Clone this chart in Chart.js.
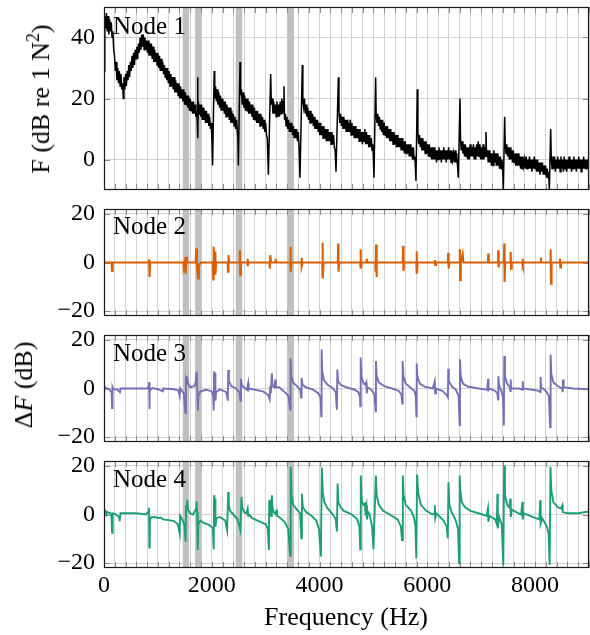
<!DOCTYPE html>
<html><head><meta charset="utf-8">
<script src="https://cdn.jsdelivr.net/npm/chart.js@4.4.1/dist/chart.umd.min.js"></script>
<style>
html,body{margin:0;padding:0;background:#fff;width:590px;height:635px;overflow:hidden;position:relative;}
canvas{position:absolute;left:0;}
.txt{position:absolute;font-family:'Liberation Serif',serif;color:#000;white-space:nowrap;line-height:1;font-size:25px;z-index:5;}
.ttl{font-size:26px;}
.rot{transform:translate(-50%,-50%) rotate(-90deg);}
</style></head><body>
<canvas id="c1"></canvas><canvas id="c2"></canvas><canvas id="c3"></canvas><canvas id="c4"></canvas>
<div class="txt" style="left:113px;top:13px;">Node 1</div>
<div class="txt" style="left:113px;top:213px;">Node 2</div>
<div class="txt" style="left:113px;top:340px;">Node 3</div>
<div class="txt" style="left:113px;top:466px;">Node 4</div>
<div class="txt ttl rot" style="left:41px;top:99px;">F (dB re 1 N<sup style="font-size:0.7em;line-height:0;">2</sup>)</div>
<div class="txt ttl rot" style="left:24px;top:385px;">Δ<i>F</i> (dB)</div>
<div class="txt ttl" style="left:346px;top:604px;transform:translateX(-50%);">Frequency (Hz)</div>
<script>
// ---- data: [frequency (Hz), level (dB)] ----
const node1Spectrum = [[0,29],[15,47],[30,43],[45,48],[60,42],[75,47],[90,41],[105,46],[120,42],[135,45],[150,40],[165,42],[180,36],[195,34],[210,29],[225,32],[240,26],[255,30],[270,25],[285,29],[300,24],[315,28],[330,23],[345,25],[358,20],[370,27],[385,23],[400,28],[415,24],[430,29],[445,26],[460,31],[475,27],[490,32],[505,29],[520,34],[535,30],[550,35],[565,31],[580,36],[595,33],[610,37],[625,33],[640,38],[655,35],[670,40],[685,36],[700,41],[715,37],[730,41],[745,36],[760,40],[775,36],[790,39],[805,35],[820,39],[835,34],[850,38],[865,34],[880,38],[895,33],[910,37],[925,32],[940,36],[955,32],[970,35],[985,31],[1000,35],[1015,30],[1030,34],[1045,29],[1060,33],[1075,29],[1090,32],[1105,28],[1120,31],[1135,27],[1150,30],[1165,26],[1180,30],[1195,25],[1210,29],[1225,24],[1240,28],[1255,24],[1270,27],[1285,23],[1300,27],[1315,22],[1330,26],[1345,22],[1360,25],[1375,21],[1390,25],[1405,20],[1420,24],[1435,20],[1450,23],[1465,19],[1480,23],[1495,18],[1510,22],[1525,18],[1540,21],[1555,17],[1570,21],[1585,16],[1600,20],[1615,16],[1630,19],[1645,15],[1660,19],[1675,15],[1690,18],[1705,14],[1720,16],[1732,12],[1738,27],[1742,7],[1750,19],[1765,15],[1780,18],[1795,14],[1810,18],[1825,13],[1840,17],[1855,13],[1870,16],[1885,12],[1900,16],[1915,12],[1930,15],[1945,11],[1960,14],[1975,10],[1990,12],[2003,6],[2015,-2],[2045,29],[2055,20],[2070,24],[2085,19],[2100,23],[2115,18],[2130,22],[2145,17],[2160,21],[2175,16],[2190,20],[2205,16],[2220,19],[2235,15],[2250,19],[2265,14],[2280,18],[2295,14],[2310,17],[2325,13],[2340,17],[2355,12],[2370,16],[2385,12],[2400,15],[2415,11],[2430,14],[2445,10],[2460,13],[2475,9],[2485,7],[2493,-2],[2524,32],[2535,21],[2550,23],[2565,18],[2580,22],[2595,17],[2610,21],[2625,16],[2640,20],[2655,16],[2670,20],[2685,15],[2700,19],[2715,15],[2730,18],[2745,14],[2760,18],[2775,13],[2790,17],[2805,13],[2820,16],[2835,12],[2850,16],[2865,12],[2880,15],[2895,11],[2910,15],[2925,11],[2940,14],[2955,10],[2970,13],[2985,9],[3000,12],[3015,8],[3030,7],[3050,-5],[3093,28],[3105,18],[3120,20],[3135,15],[3150,19],[3165,15],[3180,18],[3195,14],[3210,19],[3225,14],[3240,18],[3255,14],[3270,19],[3285,15],[3300,20],[3315,15],[3330,19],[3340,24],[3350,13],[3365,15],[3380,11],[3395,14],[3410,10],[3425,13],[3440,9],[3455,12],[3470,9],[3485,12],[3500,8],[3515,11],[3530,7],[3545,10],[3560,7],[3575,10],[3590,6],[3605,9],[3620,4],[3637,-6],[3680,31],[3690,19],[3705,17],[3720,20],[3735,15],[3750,18],[3765,14],[3780,17],[3795,13],[3810,16],[3825,12],[3840,16],[3855,12],[3870,15],[3885,11],[3900,14],[3915,10],[3930,13],[3945,10],[3960,13],[3975,9],[3990,12],[4005,8],[4020,12],[4035,8],[4050,11],[4065,7],[4080,11],[4095,7],[4110,10],[4125,6],[4140,10],[4155,6],[4170,9],[4185,6],[4200,9],[4215,5],[4230,9],[4245,5],[4260,8],[4275,4],[4290,3],[4305,-4],[4349,27],[4360,16],[4375,12],[4390,15],[4405,11],[4420,14],[4435,10],[4450,14],[4465,10],[4480,13],[4495,9],[4510,13],[4525,9],[4540,12],[4555,9],[4570,13],[4585,8],[4600,12],[4615,8],[4630,11],[4645,7],[4660,11],[4675,7],[4690,10],[4705,7],[4720,10],[4735,6],[4750,10],[4765,6],[4780,9],[4795,5],[4810,9],[4825,6],[4840,10],[4855,5],[4870,9],[4885,5],[4900,8],[4915,4],[4930,8],[4945,4],[4960,7],[4975,3],[4990,5],[5010,-6],[5041,27],[5050,15],[5065,12],[5080,15],[5095,11],[5110,14],[5125,10],[5140,13],[5155,9],[5170,13],[5185,8],[5200,12],[5215,8],[5230,11],[5245,7],[5260,11],[5275,7],[5290,10],[5305,6],[5320,10],[5335,6],[5350,9],[5365,5],[5380,9],[5395,5],[5410,8],[5425,4],[5440,8],[5455,4],[5470,7],[5485,4],[5500,7],[5515,3],[5530,7],[5545,3],[5560,6],[5575,2],[5590,6],[5605,2],[5620,5],[5635,2],[5650,5],[5665,1],[5680,5],[5695,1],[5710,4],[5725,0],[5740,4],[5755,0],[5770,1],[5789,-7],[5814,23],[5825,9],[5840,5],[5855,8],[5870,4],[5885,7],[5900,3],[5915,7],[5930,3],[5945,6],[5960,2],[5975,6],[5990,2],[6005,5],[6020,1],[6035,5],[6050,1],[6065,4],[6080,0],[6095,4],[6110,0],[6125,4],[6140,0],[6155,3],[6170,-1],[6185,3],[6200,0],[6215,4],[6230,0],[6245,3],[6260,-1],[6275,3],[6290,0],[6305,4],[6320,0],[6335,3],[6350,-1],[6365,3],[6380,0],[6395,4],[6410,0],[6425,3],[6440,-1],[6455,3],[6470,0],[6485,2],[6500,-1],[6515,3],[6530,-1],[6545,2],[6560,-2],[6575,-6],[6606,20],[6615,7],[6630,3],[6645,6],[6660,2],[6675,5],[6690,1],[6705,5],[6720,1],[6735,4],[6750,0],[6765,4],[6780,0],[6795,5],[6810,1],[6825,4],[6840,1],[6855,5],[6870,0],[6885,4],[6900,0],[6915,5],[6930,1],[6945,6],[6960,1],[6975,5],[6990,0],[7005,4],[7020,0],[7035,5],[7050,0],[7065,4],[7080,1],[7088,9],[7100,1],[7115,3],[7130,-1],[7145,3],[7160,-1],[7175,2],[7190,-2],[7205,2],[7220,-2],[7235,3],[7250,-1],[7265,2],[7280,-2],[7295,2],[7310,-2],[7325,1],[7340,-3],[7355,1],[7370,-3],[7385,0],[7400,-4],[7410,-10],[7435,14],[7445,5],[7460,2],[7475,5],[7490,1],[7505,4],[7520,0],[7535,4],[7550,0],[7565,3],[7580,-1],[7595,3],[7610,-1],[7625,2],[7640,-2],[7655,2],[7670,-2],[7685,2],[7700,-2],[7715,1],[7730,-3],[7745,1],[7760,-3],[7775,1],[7790,-2],[7805,0],[7820,-3],[7835,1],[7850,-3],[7865,0],[7880,-3],[7895,1],[7910,-3],[7925,0],[7940,-4],[7955,0],[7970,-3],[7985,1],[8000,-3],[8015,0],[8030,-4],[8045,0],[8060,-4],[8075,-1],[8090,-5],[8105,-1],[8120,-4],[8135,-1],[8150,-5],[8165,-2],[8180,-5],[8195,-2],[8210,-6],[8225,-3],[8240,-6],[8252,-4],[8264,-10],[8289,10],[8300,0],[8315,-3],[8330,1],[8345,-3],[8360,1],[8375,-4],[8390,0],[8405,-3],[8420,1],[8435,-3],[8450,0],[8465,-4],[8480,1],[8495,-3],[8510,0],[8525,-4],[8540,1],[8555,-3],[8570,0],[8585,-4],[8600,0],[8615,-3],[8630,1],[8645,-3],[8660,0],[8675,-4],[8690,0],[8705,-3],[8720,1],[8735,-3],[8750,0],[8765,-4],[8780,0],[8795,-3],[8810,1],[8825,-3],[8840,0],[8855,-4],[8870,0],[8885,-3],[8900,1],[8915,-3],[8930,0],[8945,-3],[8960,0],[8975,-3],[8990,0],[9000,-1]];

const node2Delta = [[0,0],[140,0],[150,-3.5],[160,0],[830,0],[838,1.2],[845,-6],[855,0],[1470,0],[1480,-1.5],[1495,0],[1515,-4.6],[1525,2.3],[1540,0],[1700,0],[1715,5.8],[1725,-1],[1745,-6.6],[1760,-1],[1800,0],[2020,0],[2028,-7],[2035,6.5],[2045,1],[2060,4.5],[2068,-5],[2080,0],[2295,0],[2303,-3.8],[2310,3],[2325,0],[2515,0],[2520,5],[2528,-5],[2540,0],[2660,0],[2665,1.5],[2670,-1.5],[2680,0],[3070,0],[3078,-2.5],[3085,3],[3100,0],[3180,0],[3185,1.5],[3195,0],[3455,0],[3460,6.5],[3468,-3.8],[3480,0],[3660,0],[3665,2],[3672,-1.5],[3685,0],[4050,0],[4055,8.1],[4062,-6.6],[4075,0],[4340,0],[4345,7.8],[4352,-3.8],[4365,0],[4755,0],[4760,5.4],[4767,-2.5],[4780,0],[4868,0],[4874,1.5],[4885,0],[5035,0],[5040,-3.8],[5048,7.4],[5055,-6],[5065,0],[5545,0],[5550,6.9],[5558,-3.5],[5570,0],[5795,0],[5800,4.6],[5807,-4.6],[5820,0],[6135,0],[6140,1],[6146,-1],[6160,0],[6380,0],[6388,4],[6395,-2.5],[6410,0],[6598,0],[6603,5.4],[6610,-7.3],[6620,0],[6655,3.5],[6670,0],[7125,0],[7132,3.7],[7140,0],[7310,0],[7316,5],[7323,-2],[7335,0],[7422,0],[7428,7.8],[7434,-8],[7445,0],[7540,0],[7546,4.4],[7553,-2.5],[7565,0],[7762,0],[7768,1.5],[7775,-1],[7785,0],[8100,0],[8108,2],[8115,0],[8283,0],[8288,5.4],[8295,-8.7],[8305,0],[8455,0],[8460,1.5],[8468,-2],[8480,0],[9000,0]];

const node3Delta = [[0,0],[20,0.5],[60,0],[100,-0.3],[140,-1.5],[150,-8],[158,0.5],[170,-0.3],[240,-0.3],[295,-1.5],[305,0],[500,0],[800,0],[830,0.8],[838,2.6],[843,-8.4],[850,-1.5],[870,-0.3],[900,0.2],[1000,-0.3],[1090,-1.2],[1100,0],[1300,-0.3],[1380,-0.8],[1405,-3],[1415,0],[1480,-2],[1510,-10],[1520,3],[1530,2],[1540,5],[1560,2],[1600,0.5],[1680,1],[1705,3],[1716,6.9],[1725,2],[1735,-3],[1742,-9],[1752,-3],[1790,-1.2],[1900,-0.5],[2000,-1.2],[2025,-3],[2036,-9],[2042,7],[2050,3],[2060,6.3],[2068,-5],[2080,-1.5],[2150,-0.3],[2270,-1.5],[2298,-5],[2305,7.6],[2318,3],[2360,1],[2450,0],[2510,-1.5],[2533,-5],[2542,4],[2558,1.5],[2600,0.3],[2650,-0.5],[2676,2.3],[2684,-0.5],[2700,0],[2800,-0.5],[2950,-1.2],[3040,-2.5],[3075,-4.5],[3085,1],[3095,-2],[3115,6.3],[3125,1],[3160,0.5],[3180,3.7],[3188,0.5],[3250,0.5],[3330,-1],[3420,-3],[3455,-8.7],[3462,12.4],[3475,5],[3510,2.5],[3580,1],[3640,-0.5],[3658,-3.7],[3666,4.4],[3685,1.5],[3750,0.5],[3880,-0.5],[3980,-2],[4020,-4],[4032,-11.4],[4038,16],[4050,7],[4080,3.5],[4150,1.5],[4250,0],[4300,-1.5],[4322,-8.7],[4330,7.8],[4345,3],[4390,1.5],[4500,0.5],[4650,-0.5],[4720,-1.5],[4750,-3.5],[4757,-7.3],[4763,12.7],[4775,5],[4810,2.5],[4850,1.5],[4868,2.5],[4876,-2],[4890,0.5],[4960,-0.5],[5020,-2.5],[5040,-9.4],[5047,11.3],[5060,5],[5100,2.5],[5200,1],[5350,0],[5470,-1],[5520,-2.5],[5535,-6.2],[5542,11.3],[5555,5],[5600,2],[5680,0.5],[5760,-1],[5785,-3],[5797,-11.4],[5803,10.3],[5815,5],[5860,2],[5950,0.8],[6100,0],[6137,3],[6145,-2],[6160,0],[6280,-1],[6350,-2.5],[6382,-3.6],[6388,8.1],[6400,3],[6450,1],[6530,-0.5],[6580,-3],[6600,-15],[6606,12],[6620,5],[6660,2],[6750,0.8],[6950,0],[7110,-0.5],[7128,4],[7136,-0.5],[7150,0],[7260,-1],[7300,-2],[7312,-4.5],[7318,5],[7330,1.5],[7380,-1.5],[7405,-4],[7420,-15.2],[7428,13.4],[7440,5],[7480,2],[7530,0.5],[7540,-1],[7547,3.7],[7555,0],[7700,0],[7765,-0.5],[7770,3],[7778,0],[7950,-0.5],[8070,-1],[8095,-1.5],[8102,4.7],[8112,0.5],[8200,-1],[8255,-3],[8280,-16],[8288,14],[8300,6],[8340,2.5],[8420,1],[8500,0],[8512,-1.5],[8518,3.7],[8530,0.5],[8700,0],[9000,-0.3]];

const node4Delta = [[0,0.5],[25,1.4],[45,0],[60,1],[120,0.5],[140,-1],[150,-7.5],[160,0.5],[200,0.3],[280,-1],[290,-2.7],[305,0.5],[400,0.5],[600,0.5],[780,0],[820,1],[835,2.8],[842,-13.6],[850,-3],[870,-1.2],[950,-1],[1000,-1.5],[1050,-1.2],[1100,-2],[1200,-2.3],[1300,-2.7],[1370,-4],[1405,-7.8],[1412,-0.5],[1440,-1.5],[1490,-4],[1515,-11.2],[1522,3.8],[1535,2],[1545,5.9],[1560,2],[1600,0.5],[1650,0],[1690,1.5],[1710,2.5],[1718,5.4],[1728,1],[1740,-14.6],[1750,-4],[1790,-2.5],[1850,-3.5],[1950,-4.3],[2020,-5.5],[2036,-14.3],[2042,7.9],[2050,3],[2060,6.5],[2068,-5],[2085,-1.5],[2150,-1],[2250,-2.5],[2285,-6.4],[2305,9.2],[2315,4],[2340,1.5],[2400,0],[2480,-2],[2530,-6.4],[2552,7.2],[2565,3],[2600,1],[2640,0.5],[2665,2.4],[2675,-0.5],[2690,0],[2750,-1.5],[2900,-3],[3000,-4],[3040,-6],[3060,-14.6],[3066,5.9],[3075,-1],[3090,6.2],[3100,-0.5],[3115,7.9],[3125,3],[3150,1],[3190,0],[3200,2],[3210,-0.5],[3250,-1],[3350,-3],[3420,-6],[3455,-17],[3465,19.6],[3480,8],[3510,4],[3580,2],[3640,0.5],[3662,-9.8],[3672,8.5],[3690,3],[3750,1],[3850,-0.5],[3940,-2.5],[3990,-6],[4025,-17.3],[4042,19.3],[4060,9],[4090,5],[4150,2.5],[4250,0],[4300,-2],[4322,-7],[4335,12.7],[4350,5],[4390,3],[4450,1.5],[4600,0],[4700,-2],[4740,-5],[4755,-14.3],[4765,16],[4780,6],[4810,4],[4840,4.5],[4850,1.5],[4870,3.8],[4880,-2],[4900,1],[4930,0],[4975,-5],[5000,-14.3],[5045,16],[5060,8],[5100,4],[5180,1.5],[5300,0],[5450,-2],[5510,-5],[5530,-10.5],[5545,16],[5560,8],[5600,4],[5700,1.5],[5750,-1],[5780,-5],[5795,-18],[5810,16.4],[5830,9],[5880,4],[5980,1.5],[6100,0],[6135,0.5],[6140,3.8],[6148,-1.5],[6170,0.5],[6300,-2.5],[6360,-5],[6380,-9.8],[6392,13.3],[6410,4],[6450,1],[6520,-2],[6570,-6],[6590,-20],[6600,16],[6612,10],[6640,5],[6700,3],[6800,1.5],[6950,0.5],[7100,-0.5],[7125,2.5],[7132,-3],[7150,-0.5],[7260,-2],[7290,-4],[7300,8.5],[7308,-5.7],[7330,-1],[7380,-4],[7410,-20.7],[7425,20],[7440,8],[7480,4],[7520,3],[7540,6.5],[7548,-1],[7570,2],[7650,1],[7740,0],[7765,5.2],[7772,-2],[7790,0.5],[7950,-1],[8080,-2],[8095,5.9],[8103,-3.6],[8130,-1.5],[8220,-5],[8250,-8],[8270,-20.7],[8285,19.6],[8300,10],[8340,5],[8420,3],[8480,2.5],[8505,3.8],[8512,1],[8600,0.5],[8800,0.5],[8980,1.2],[9000,0.5]];

// shaded frequency bands (Hz)
const bandStart = [1460, 1690, 2445, 3400];
const bandEnd   = [1580, 1810, 2565, 3525];

// axis ticks
const xTickLabels = [0, 2000, 4000, 6000, 8000];
const xMinorStep = 200;
const xMax = 9000;
const yTicksTop = [0, 20, 40];
const yTicksDelta = [-20, 0, 20];

// ---- drawing ----
const FONT = "'Liberation Serif', serif";
const framePlugin = {
  id: 'frame',
  beforeDatasetsDraw(chart) {
    const {ctx, chartArea: a, scales: {x, y}} = chart;
    ctx.save();
    ctx.fillStyle = '#c0c0c0';
    bandStart.forEach((s, i) => {
      const x0 = x.getPixelForValue(s), x1 = x.getPixelForValue(bandEnd[i]);
      ctx.fillRect(x0, a.top, x1 - x0, a.bottom - a.top);
    });
    ctx.strokeStyle = '#8c8c8c';
    ctx.lineWidth = 1;
    ctx.beginPath();
    x.ticks.forEach(t => {
      const px = Math.round(x.getPixelForValue(t.value)) + 0.5;
      ctx.moveTo(px, a.bottom); ctx.lineTo(px, a.bottom - 6);
      ctx.moveTo(px, a.top); ctx.lineTo(px, a.top + 6);
    });
    y.ticks.forEach(t => {
      const py = Math.round(y.getPixelForValue(t.value)) + 0.5;
      ctx.moveTo(a.left, py); ctx.lineTo(a.left + 6, py);
      ctx.moveTo(a.right, py); ctx.lineTo(a.right - 6, py);
    });
    ctx.stroke();
    ctx.restore();
  },
  afterDatasetsDraw(chart) {
    const {ctx, chartArea: a} = chart;
    ctx.save();
    ctx.strokeStyle = '#1a1a1a';
    ctx.lineWidth = 1.2;
    ctx.strokeRect(a.left + 0.5, a.top + 0.5, a.right - a.left - 1, a.bottom - a.top - 1);
    ctx.restore();
  }
};

function makePanel(id, top, bottom, series, color, width, yMin, yMax, yTicks, last) {
  const PAD = 14, XH = last ? 40 : 0, PADB = last ? 5 : 14;
  const cv = document.getElementById(id);
  const h = bottom - top + PAD + XH + PADB;
  cv.width = 590; cv.height = h;
  cv.style.top = (top - PAD) + 'px';
  cv.style.width = '590px'; cv.style.height = h + 'px';
  const xTicks = [];
  for (let v = 0; v <= xMax; v += xMinorStep) xTicks.push(v);
  new Chart(cv, {
    type: 'line',
    data: { datasets: [{
      data: series.map(p => ({x: p[0], y: p[1]})),
      borderColor: color, borderWidth: width, pointRadius: 0, tension: 0, fill: false
    }]},
    options: {
      responsive: false, animation: false, events: [],
      layout: { padding: { top: PAD, bottom: PADB, left: 0, right: 1 } },
      plugins: { legend: { display: false }, tooltip: { enabled: false } },
      scales: {
        x: {
          type: 'linear', min: 0, max: xMax,
          afterBuildTicks: s => { s.ticks = xTicks.map(v => ({value: v})); },
          afterFit: s => { s.height = XH; s.paddingLeft = 0; s.paddingRight = 0; s.paddingTop = 0; s.paddingBottom = 0; },
          grid: { color: '#d2d2d2', lineWidth: 1, drawTicks: false },
          border: { display: false },
          ticks: {
            display: last, autoSkip: false, maxRotation: 0, minRotation: 0, padding: 3,
            color: '#000', font: { family: FONT, size: 24 },
            callback: v => xTickLabels.includes(v) ? String(v) : ''
          }
        },
        y: {
          min: yMin, max: yMax,
          afterBuildTicks: s => { s.ticks = yTicks.map(v => ({value: v})); },
          afterFit: s => { s.width = 104; s.paddingTop = 0; s.paddingBottom = 0; s.paddingLeft = 0; s.paddingRight = 0; },
          grid: { color: '#d2d2d2', lineWidth: 1, drawTicks: false },
          border: { display: false },
          ticks: { padding: 9, color: '#000', font: { family: FONT, size: 24 },
            callback: v => String(v).replace('-', '\u2212') }
        }
      }
    },
    plugins: [framePlugin]
  });
}

makePanel('c1', 7, 190, node1Spectrum, '#000000', 1.5, -10, 50, yTicksTop, false);
makePanel('c2', 209, 316, node2Delta, '#d95f02', 2.1, -22, 22, yTicksDelta, false);
makePanel('c3', 335, 442, node3Delta, '#7570b3', 1.9, -22, 22, yTicksDelta, false);
makePanel('c4', 461, 568, node4Delta, '#1b9e77', 1.9, -22, 22, yTicksDelta, true);
</script>
</body></html>
